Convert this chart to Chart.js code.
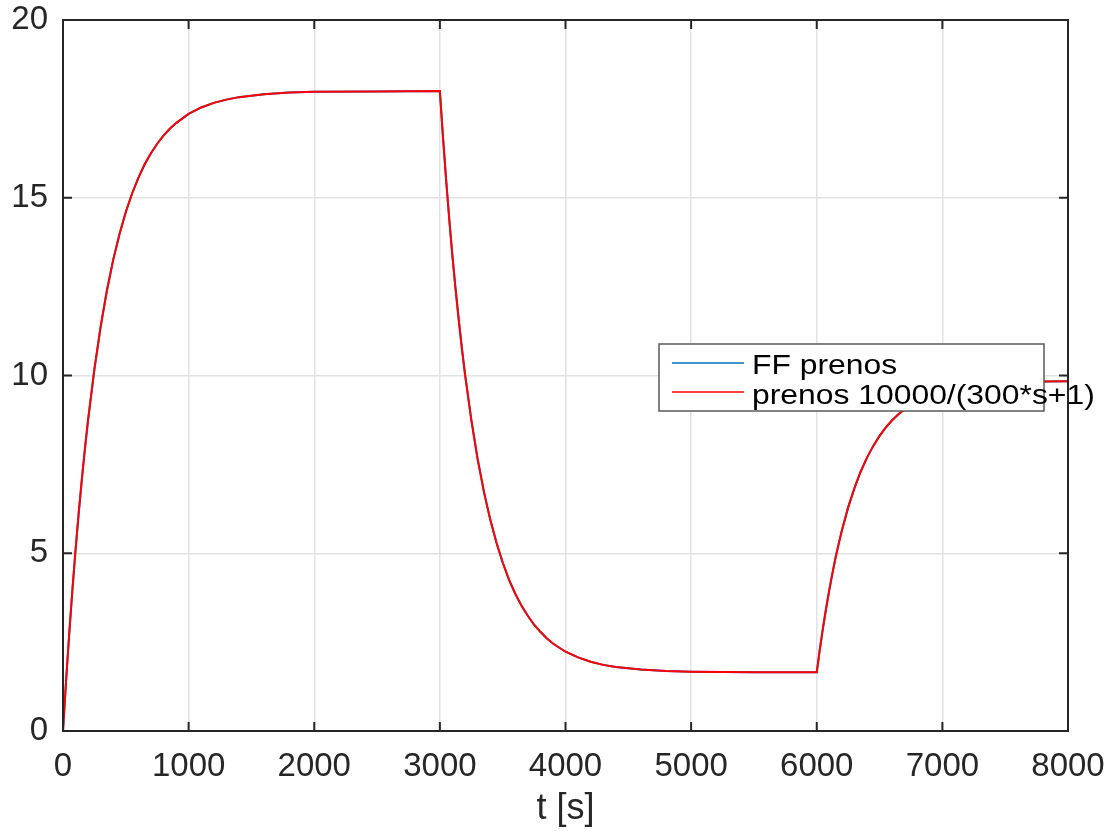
<!DOCTYPE html>
<html>
<head>
<meta charset="utf-8">
<script src="https://cdn.jsdelivr.net/npm/chart.js@4.4.1/dist/chart.umd.min.js"></script>
<style>
  html, body { margin: 0; padding: 0; background: #ffffff; }
  #wrap { width: 1115px; height: 831px; }
</style>
</head>
<body>
<div id="wrap"><canvas id="c" width="1115" height="831"></canvas></div>
<script>
// ---- data ----
const timeSeconds = [
  0,25,50,75,100,125,150,175,200,250,300,350,400,450,500,550,600,650,700,750,800,850,900,
  1000,1100,1200,1300,1400,1600,1800,2000,2500,3000,
  3025,3050,3075,3100,3125,3150,3175,3200,3250,3300,3350,3400,3450,3500,3550,3600,3650,3700,3750,3800,3850,3900,
  4000,4100,4200,4300,4400,4600,4800,5000,5500,6000,
  6025,6050,6075,6100,6125,6150,6175,6200,6250,6300,6350,6400,6450,6500,6550,6600,6650,6700,6750,6800,6850,6900,
  7000,7100,7200,7300,7400,7600,7800,8000
];
const ffPrenos = [
  0,1.44,2.76,3.98,5.10,6.13,7.08,7.96,8.76,10.18,11.38,12.40,13.26,13.98,14.60,15.12,15.56,15.94,16.25,16.52,16.75,16.94,17.10,
  17.36,17.54,17.67,17.76,17.83,17.91,17.96,17.98,17.99,18.00,
  16.69,15.49,14.38,13.36,12.43,11.57,10.77,10.04,8.76,7.66,6.74,5.96,5.30,4.74,4.26,3.86,3.52,3.24,2.99,2.79,2.61,2.46,
  2.23,2.07,1.95,1.86,1.80,1.73,1.69,1.67,1.65,1.65,
  2.31,2.91,3.46,3.97,4.44,4.88,5.27,5.64,6.29,6.83,7.30,7.69,8.02,8.30,8.54,8.74,8.91,9.05,9.18,9.28,9.37,9.44,
  9.56,9.64,9.70,9.74,9.77,9.81,9.83,9.84
];
const prenosTF = [
  0,1.44,2.76,3.98,5.10,6.13,7.08,7.96,8.76,10.18,11.38,12.40,13.26,13.98,14.60,15.12,15.56,15.94,16.25,16.52,16.75,16.94,17.10,
  17.36,17.54,17.67,17.76,17.83,17.91,17.96,17.98,17.99,18.00,
  16.69,15.49,14.38,13.36,12.43,11.57,10.77,10.04,8.76,7.66,6.74,5.96,5.30,4.74,4.26,3.86,3.52,3.24,2.99,2.79,2.61,2.46,
  2.23,2.07,1.95,1.86,1.80,1.73,1.69,1.67,1.65,1.65,
  2.31,2.91,3.46,3.97,4.44,4.88,5.27,5.64,6.29,6.83,7.30,7.69,8.02,8.30,8.54,8.74,8.91,9.05,9.18,9.28,9.37,9.44,
  9.56,9.64,9.70,9.74,9.77,9.81,9.83,9.84
];
const seriesLabels = ['FF prenos', 'prenos 10000/(300*s+1)'];
const xTicks = [0,1000,2000,3000,4000,5000,6000,7000,8000];
const yTicks = [0,5,10,15,20];
const xTitle = 't [s]';

// ---- rendering ----
const FONT = "'Liberation Sans', Arial, Helvetica, sans-serif";
const AXIS = '#262626';

const toPts = (ys) => timeSeconds.map((t, i) => ({ x: t, y: ys[i] }));

const matlabBox = {
  id: 'matlabBox',
  afterDatasetsDraw(chart) {
    const { ctx, chartArea: a, scales } = chart;
    ctx.save();
    ctx.strokeStyle = AXIS;
    ctx.lineWidth = 2;
    const tl = 9;
    xTicks.forEach(v => {
      const px = scales.x.getPixelForValue(v);
      ctx.beginPath();
      ctx.moveTo(px, a.bottom); ctx.lineTo(px, a.bottom - tl);
      ctx.moveTo(px, a.top); ctx.lineTo(px, a.top + tl);
      ctx.stroke();
    });
    yTicks.forEach(v => {
      const py = scales.y.getPixelForValue(v);
      ctx.beginPath();
      ctx.moveTo(a.left, py); ctx.lineTo(a.left + tl, py);
      ctx.moveTo(a.right, py); ctx.lineTo(a.right - tl, py);
      ctx.stroke();
    });
    ctx.strokeRect(a.left, a.top, a.right - a.left, a.bottom - a.top);
    ctx.restore();
  },
  afterDraw(chart) {
    const { ctx } = chart;
    const ds = chart.data.datasets;
    ctx.save();
    const bx = 659, by = 344, bw = 385, bh = 67;
    ctx.fillStyle = '#ffffff';
    ctx.fillRect(bx, by, bw, bh);
    ctx.strokeStyle = '#5a5a5a';
    ctx.lineWidth = 1.5;
    ctx.strokeRect(bx, by, bw, bh);
    const rows = [363, 392];
    const baselines = [374, 404];
    ds.forEach((d, i) => {
      ctx.strokeStyle = d.borderColor;
      ctx.lineWidth = 1.5;
      ctx.beginPath();
      ctx.moveTo(672, rows[i]);
      ctx.lineTo(744, rows[i]);
      ctx.stroke();
      ctx.save();
      ctx.translate(752, baselines[i]);
      ctx.scale(1.18, 1);
      ctx.fillStyle = '#000000';
      ctx.font = '27px ' + FONT;
      ctx.textBaseline = 'alphabetic';
      ctx.textAlign = 'left';
      ctx.fillText(d.label, 0, 0);
      ctx.restore();
    });
    ctx.restore();
  }
};

new Chart(document.getElementById('c'), {
  type: 'line',
  data: {
    datasets: [
      { label: seriesLabels[0], data: toPts(ffPrenos), borderColor: '#0072BD', borderWidth: 2, pointRadius: 0, tension: 0, order: 1 },
      { label: seriesLabels[1], data: toPts(prenosTF), borderColor: '#FF0000', borderWidth: 2, pointRadius: 0, tension: 0, order: 0 }
    ]
  },
  options: {
    responsive: false,
    animation: false,
    devicePixelRatio: 1,
    layout: { padding: { left: 0, right: 47, top: 20, bottom: 0 } },
    plugins: { legend: { display: false }, tooltip: { enabled: false }, title: { display: false } },
    scales: {
      x: {
        type: 'linear',
        min: 0, max: 8000,
        afterBuildTicks: (s) => { s.ticks = xTicks.map(v => ({ value: v })); },
        afterFit: (s) => { s.height = 100; s.paddingLeft = 0; s.paddingRight = 0; },
        ticks: { color: AXIS, font: { family: FONT, size: 33 }, padding: 16, maxRotation: 0, autoSkip: false,
                 callback: (v) => String(v) },
        grid: { color: '#e2e2e2', lineWidth: 1.5, drawTicks: false },
        border: { display: false },
        title: { display: true, text: xTitle, color: AXIS, font: { family: FONT, size: 36 }, padding: { top: 0, bottom: 0 } }
      },
      y: {
        type: 'linear',
        min: 0, max: 20,
        afterBuildTicks: (s) => { s.ticks = yTicks.map(v => ({ value: v })); },
        afterFit: (s) => { s.width = 63; s.paddingTop = 0; s.paddingBottom = 0; },
        ticks: { color: AXIS, font: { family: FONT, size: 33 }, padding: 15, callback: (v) => String(v) },
        grid: { color: '#e2e2e2', lineWidth: 1.5, drawTicks: false },
        border: { display: false }
      }
    }
  },
  plugins: [matlabBox]
});
</script>
</body>
</html>
